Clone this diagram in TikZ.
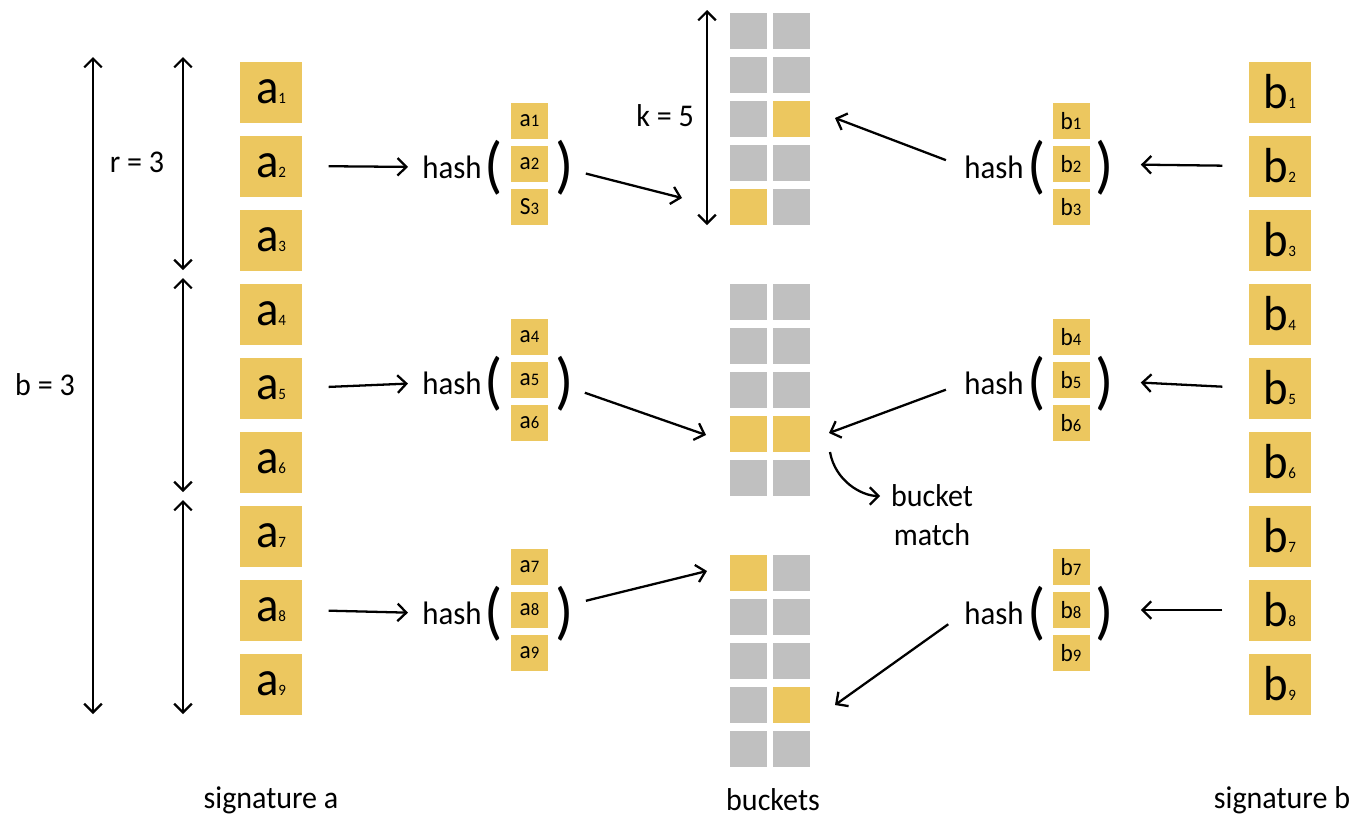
\documentclass[tikz,border=0pt]{standalone}
\usepackage{fontspec}
\setmainfont{Carlito}[FakeStretch=0.95]
\usetikzlibrary{arrows.meta}

\definecolor{sigyellow}{RGB}{236,199,95}
\definecolor{buckgray}{RGB}{192,192,192}

% text inside the signature rows and the band rows
\newcommand{\sigtxt}[2]{{\fontsize{28}{28}\selectfont #1}{\fontsize{9}{9}\selectfont #2}}
\newcommand{\bandtxt}[2]{{\fontsize{14}{14}\selectfont #1}{\fontsize{10}{10}\selectfont #2}}
% buckets that are hit
\newcommand{\hotcell}[1]{\expandafter\def\csname hot#1\endcsname{}}
\hotcell{132}\hotcell{151}\hotcell{241}\hotcell{242}\hotcell{311}\hotcell{342}

\tikzset{
  sigbox/.style={fill=sigyellow, minimum width=1.24cm, minimum height=1.22cm, inner sep=0pt},
  bandbox/.style={fill=sigyellow, minimum width=0.74cm, minimum height=0.72cm, inner sep=0pt},
  bucket/.style={minimum width=0.74cm, minimum height=0.72cm, inner sep=0pt},
  arr/.style={-{Straight Barb[length=5pt,width=10pt]}, line width=1.3pt},
  dbl/.style={{Straight Barb[length=5pt,width=10pt]}-{Straight Barb[length=5pt,width=10pt]}, line width=1.3pt},
  lbl/.style={font=\fontsize{18}{20}\selectfont, inner sep=0pt},
  hashtxt/.style={font=\fontsize{18.5}{20}\selectfont, inner sep=0pt},
  paren/.style={font=\fontsize{36}{36}\selectfont, inner sep=0pt}
}

\begin{document}
\begin{tikzpicture}[x=0.02cm, y=-0.02cm]
\useasboundingbox (0,0) rectangle (1366,826);

% signatures
\foreach \i in {1,...,9} {
  \node[sigbox] (sa\i) at (271,{92+74*(\i-1)}) {\sigtxt{a}{\i}};
  \node[sigbox] (sb\i) at (1280,{92+74*(\i-1)}) {\sigtxt{b}{\i}};
}

% bands and hash calls
\foreach \g/\y in {1/164,2/380,3/610} {
  \node[hashtxt] (hasha\g) at (452,\y+3) {hash};
  \node[paren] (pla\g) at (494,\y+4) {(};
  \node[paren] (pra\g) at (565,\y+4) {)};
  \node[hashtxt] (hashb\g) at (994,\y+3) {hash};
  \node[paren] (plb\g) at (1037,\y+4) {(};
  \node[paren] (prb\g) at (1105,\y+4) {)};
  \foreach \k in {1,2,3} {
    \pgfmathtruncatemacro\i{3*(\g-1)+\k}
    \node[bandbox] (ha\i) at (529.5,{\y+43*(\k-2)}) {\bandtxt{\ifnum\i=3 S\else a\fi}{\i}};
    \node[bandbox] (hb\i) at (1071,{\y+43*(\k-2)}) {\bandtxt{b}{\i}};
  }
}

% buckets
\foreach \g/\t in {1/13,2/284,3/555}
  \foreach \r in {1,...,5}
    \foreach \c/\x in {1/748.5,2/791.5} {
      \ifcsname hot\g\r\c\endcsname\def\bfill{sigyellow}\else\def\bfill{buckgray}\fi
      \node[bucket, fill=\bfill] (bk\g\r\c) at (\x,{\t+18+44*(\r-1)}) {};
    }

% labels
\node[lbl] (blbl) at (45,385) {b = 3};
\node[lbl] (rlbl) at (137,162) {r = 3};
\node[lbl] (klbl) at (665,116) {k = 5};
\node[lbl] (siga) at (271,800) {signature a};
\node[lbl] (bkts) at (773,800) {buckets};
\node[lbl] (sigb) at (1282,800) {signature b};
\node[lbl] (bkt) at (932,496) {bucket};
\node[lbl] (mtc) at (932,535) {match};

% ranges
\coordinate (bt) at (93,57);   \coordinate (bb) at (93,714);
\coordinate (r1t) at (183,57); \coordinate (r1b) at (183,270);
\coordinate (r2t) at (183,278); \coordinate (r2b) at (183,492);
\coordinate (r3t) at (183,500); \coordinate (r3b) at (183,714);
\coordinate (kt) at (707,10);  \coordinate (kb) at (707,225);
\draw[dbl] (bt) -- (bb);
\draw[dbl] (r1t) -- (r1b);
\draw[dbl] (r2t) -- (r2b);
\draw[dbl] (r3t) -- (r3b);
\draw[dbl] (kt) -- (kb);

% arrow ends at the buckets
\coordinate (ta1) at (682,198); \coordinate (ta2) at (706,435); \coordinate (ta3) at (707,571);
\coordinate (tb1) at (835,118); \coordinate (tb2) at (829,433); \coordinate (tb3) at (835,705);

\foreach \g/\j in {1/2,2/5,3/8} {
  \draw[arr, shorten <=15pt, shorten >=8pt] (sa\j.east) -- (hasha\g.west);
  \draw[arr, shorten <=15pt, shorten >=29pt] (sb\j.west) -- (hb\j.east);
  \draw[arr, shorten <=22pt] (ha\j.east) -- (ta\g);
  \draw[arr, shorten <=11pt] (hashb\g.west) -- (tb\g);
}

% bucket match
\coordinate (m1) at (830,452);
\draw[arr, shorten >=6pt] (m1) to[out=-80, in=180] (bkt.west);
\end{tikzpicture}
\end{document}
